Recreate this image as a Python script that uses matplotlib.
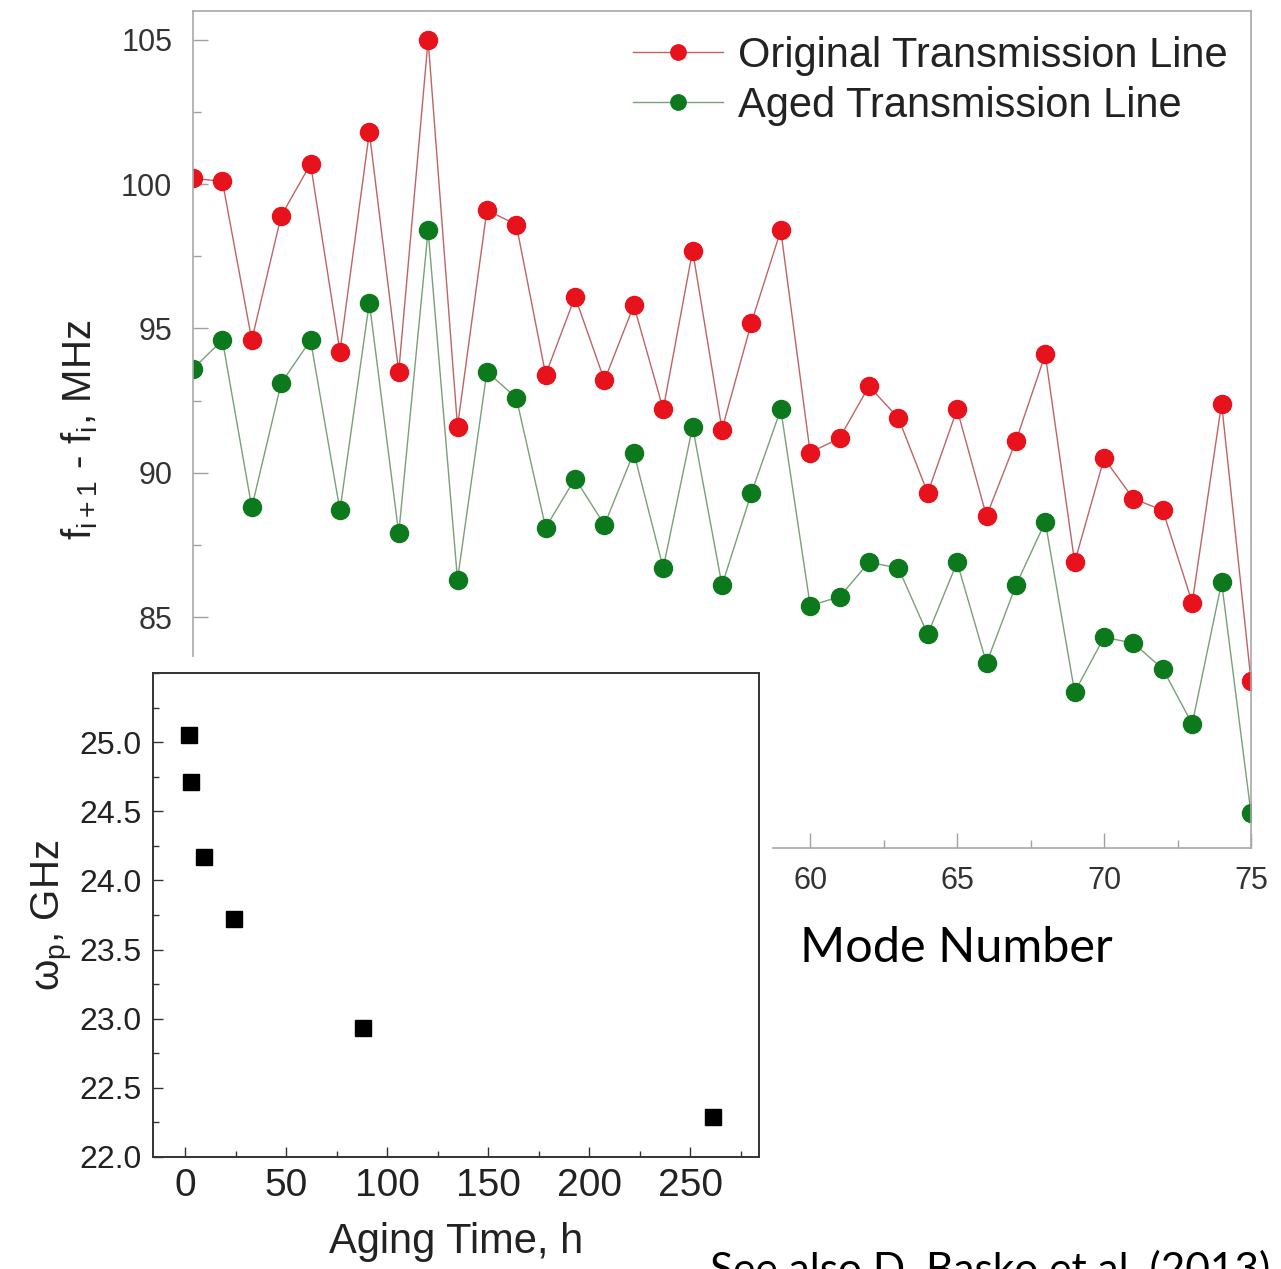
import matplotlib.pyplot as plt
from matplotlib.patches import Rectangle
from matplotlib.ticker import MultipleLocator, FixedLocator

plt.rcParams['font.family'] = ['Liberation Sans', 'DejaVu Sans']
plt.rcParams['mathtext.fontset'] = 'custom'
plt.rcParams['mathtext.rm'] = 'Liberation Sans'
plt.rcParams['mathtext.it'] = 'Liberation Sans:italic'
plt.rcParams['mathtext.bf'] = 'Liberation Sans:bold'

# main plot: mode spacing vs mode number
mode = list(range(39, 76))
original = [100.2, 100.1, 94.6, 98.9, 100.7, 94.2, 101.8, 93.5, 105.0, 91.6,
            99.1, 98.6, 93.4, 96.1, 93.2, 95.8, 92.2, 97.7, 91.5, 95.2,
            98.4, 90.7, 91.2, 93.0, 91.9, 89.3, 92.2, 88.5, 91.1, 94.1,
            86.9, 90.5, 89.1, 88.7, 85.5, 92.4, 82.8]
aged = [93.6, 94.6, 88.8, 93.1, 94.6, 88.7, 95.9, 87.9, 98.4, 86.3,
        93.5, 92.6, 88.1, 89.8, 88.2, 90.7, 86.7, 91.6, 86.1, 89.3,
        92.2, 85.4, 85.7, 86.9, 86.7, 84.4, 86.9, 83.4, 86.1, 88.3,
        82.4, 84.3, 84.1, 83.2, 81.3, 86.2, 78.2]

# inset: plasma frequency vs aging time
aging_time = [2, 3, 9, 24, 88, 261]
plasma_freq = [25.05, 24.71, 24.17, 23.72, 22.93, 22.29]
inset_yticks = [22.0, 22.5, 23.0, 23.5, 24.0, 24.5, 25.0]

W, H = 1281, 1269
fig = plt.figure(figsize=(W / 100, H / 100), dpi=100)

ax = fig.add_axes([193 / W, 1 - 848 / H, (1251 - 193) / W, (848 - 11) / H])
ax.plot(mode, original, '-o', color='#bf6464', lw=1.0, ms=13,
        mfc='#e8121c', mec='#e8121c', label='Original Transmission Line')
ax.plot(mode, aged, '-o', color='#7a9f7a', lw=1.0, ms=13,
        mfc='#0c7a1c', mec='#0c7a1c', label='Aged Transmission Line')
ax.set_xlim(39, 75)
ax.set_ylim(77, 106)
ax.xaxis.set_major_locator(MultipleLocator(5))
ax.xaxis.set_minor_locator(MultipleLocator(2.5))
ax.yaxis.set_major_locator(MultipleLocator(5))
ax.yaxis.set_minor_locator(MultipleLocator(2.5))
for s in ax.spines.values():
    s.set_color('#a8a8a8')
    s.set_linewidth(1.2)
ax.tick_params(which='both', direction='in', color='#a0a0a0', width=1)
ax.tick_params(which='major', length=11)
ax.tick_params(which='minor', length=6)
ax.tick_params(axis='y', labelsize=22, pad=15, labelcolor='#333333')
ax.tick_params(axis='x', labelsize=22, pad=13, labelcolor='#333333')
ax.set_ylabel(r'f$_{\mathrm{i+1}}$ - f$_{\mathrm{i}}$, MHz', fontsize=29, color='#222222')
ax.yaxis.set_label_coords(-0.088, 0.5)
ax.legend(loc='upper left', bbox_to_anchor=(633 / W, 1 - 36 / H),
          bbox_transform=fig.transFigure, frameon=False, fontsize=30,
          handlelength=2.16, handletextpad=0.36, labelspacing=0.24,
          borderpad=0, borderaxespad=0, markerscale=0.85,
          labelcolor='#222222')

# white patch the inset sits on
fig.add_artist(Rectangle((0, 0), 772 / W, 1 - 657 / H, transform=fig.transFigure,
                         facecolor='white', edgecolor='none', zorder=1))

ax2 = fig.add_axes([153 / W, 1 - 1157 / H, 606 / W, 484 / H], zorder=2)
ax2.plot(aging_time, plasma_freq, 's', color='black', ms=11)
ax2.set_xlim(-16, 284)
ax2.set_ylim(22, 25.5)
ax2.xaxis.set_major_locator(MultipleLocator(50))
ax2.xaxis.set_minor_locator(MultipleLocator(25))
ax2.yaxis.set_major_locator(FixedLocator(inset_yticks))
ax2.yaxis.set_minor_locator(MultipleLocator(0.25))
ax2.yaxis.set_major_formatter('{x:.1f}')
for s in ax2.spines.values():
    s.set_color('#333333')
    s.set_linewidth(1.4)
ax2.tick_params(which='both', direction='in', color='#333333', width=1)
ax2.tick_params(which='major', length=7)
ax2.tick_params(which='minor', length=4)
ax2.tick_params(axis='y', labelsize=23, pad=8, labelcolor='#222222')
ax2.tick_params(axis='x', labelsize=28, pad=8, labelcolor='#222222')
ax2.set_xlabel('Aging Time, h', fontsize=30, color='#222222')
ax2.xaxis.set_label_coords(0.5, -0.134)
ax2.set_ylabel(r'ω$_{\mathrm{p}}$, GHz', fontsize=29, color='#222222')
ax2.yaxis.set_label_coords(-0.13, 0.5)

fig.text(800 / W, 1 - 962 / H, 'Mode Number', fontfamily='Lato', fontsize=35,
         va='baseline', ha='left', color='black')
fig.text(710 / W, 1 - 1283 / H, 'See also D. Basko et al. (2013)', fontfamily='Lato',
         fontsize=30.5, va='baseline', ha='left', color='black')

fig.savefig('out.png', dpi=100)
